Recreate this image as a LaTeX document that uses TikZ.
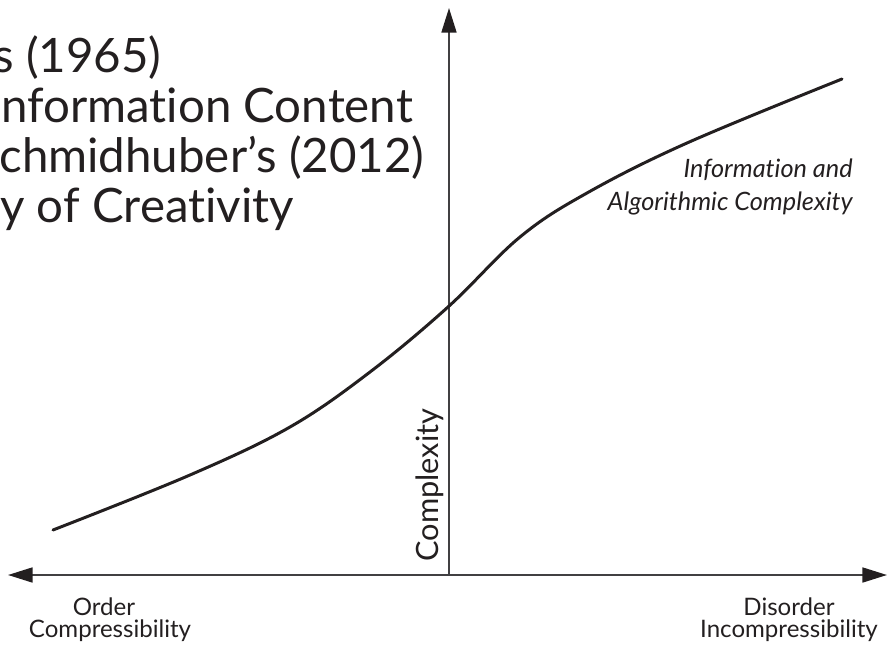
\documentclass[tikz,border=0pt]{standalone}
\usepackage{fontspec}
\setmainfont{Lato}[Ligatures=NoCommon]
\usetikzlibrary{arrows.meta}
\definecolor{axisgray}{HTML}{414042}
\definecolor{ink}{HTML}{231F20}

\begin{document}
\begin{tikzpicture}[
        x=0.02cm,
        y=-0.02cm,
        every node/.style={text=ink, inner sep=0pt},
        axisline/.style={draw=axisgray, line width=1.1pt},
        bigtext/.style={font=\fontsize{27}{30}\selectfont, anchor=base west},
        axislabel/.style={font=\fontsize{13.7}{16}\selectfont, anchor=base},
        curvelabel/.style={font=\fontsize{14.4}{16}\selectfont\itshape, anchor=base east}
    ]
        \useasboundingbox (0,0) rectangle (887,646);

        % Axes
        \coordinate (origin) at (449,575);
        \coordinate (top) at (449,8);
        \coordinate (left) at (8,575);
        \coordinate (right) at (887,575);
        \draw[axisline, -{Triangle[length=14pt, width=8.5pt, color=ink]}] (origin) -- (top);
        \draw[axisline, {Triangle[length=14pt, width=8.5pt, color=ink]}-{Triangle[length=14pt, width=8.5pt, color=ink]}] (left) -- (right);

        % Complexity curve
        \draw[ink, line width=1.7pt, line cap=round] plot[smooth, tension=0.6] coordinates {
            (53,530) (190,475) (290,427) (370,372) (448,307)
            (520,237) (587,193) (687,143) (842,79)};

        % Text at upper left (cut by the frame)
        \node[bigtext] (line1) at (-7,72){s (1965)};
        \node[bigtext] (line2) at (1,122){nformation Content};
        \node[bigtext] (line3) at (-1,172){chmidhuber's (2012)};
        \node[bigtext] (line4) at (0,222){y of Creativity};

        % Curve label
        \node[curvelabel] (info) at (853,177){Information and};
        \node[curvelabel] (algo) at (853,210){Algorithmic Complexity};

        % Axis labels
        \node[axislabel, font=\fontsize{17.5}{20}\selectfont, rotate=90] (cplx) at (438,485){Complexity};
        \node[axislabel] (order) at (104,615){Order};
        \node[axislabel] (compr) at (110,637){Compressibility};
        \node[axislabel] (disorder) at (789,615){Disorder};
        \node[axislabel] (incompr) at (789,637){Incompressibility};
    \end{tikzpicture}
\end{document}
